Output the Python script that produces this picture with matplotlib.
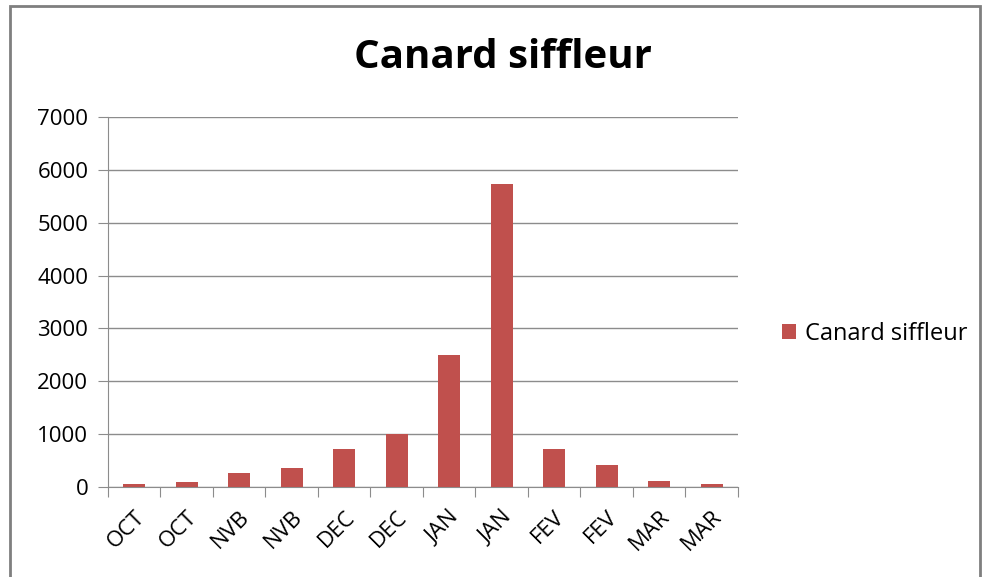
import matplotlib.pyplot as plt
import numpy as np
from matplotlib.patches import Rectangle

plt.rcParams['font.family'] = ['Open Sans', 'DejaVu Sans']

months = ["OCT", "OCT", "NVB", "NVB", "DEC", "DEC", "JAN", "JAN", "FEV", "FEV", "MAR", "MAR"]
counts = [50, 100, 270, 365, 710, 1000, 2500, 5730, 710, 410, 120, 50]
series = "Canard siffleur"

fig = plt.figure(figsize=(9.89, 5.77), dpi=100)
ax = fig.add_axes([0.109, 0.156, 0.637, 0.641])

x = np.arange(len(months))
ax.bar(x, counts, width=0.42, color='#C0504D', label=series, zorder=3)

ax.set_xlim(-0.5, len(months) - 0.5)
ax.set_ylim(0, 7000)
ax.set_yticks(np.arange(0, 7001, 1000))
ax.yaxis.grid(True, color='#8c8c8c', linewidth=1, zorder=0)

# category ticks sit on the boundaries, labels in the middle
ax.set_xticks(np.arange(-0.5, len(months)), minor=False)
ax.set_xticklabels([])
ax.set_xticks(x, minor=True)
ax.set_xticklabels(months, minor=True, rotation=45, ha='right', rotation_mode='anchor', fontsize=16)
ax.tick_params(axis='x', which='major', length=7, color='#8c8c8c', direction='out')
ax.tick_params(axis='x', which='minor', length=0, pad=14)
ax.tick_params(axis='y', length=7, color='#8c8c8c', labelsize=16, pad=7)

for s in ['top', 'right']:
    ax.spines[s].set_visible(False)
for s in ['left', 'bottom']:
    ax.spines[s].set_color('#8c8c8c')

fig.text(0.509, 0.901, series, ha='center', va='center', fontsize=29, fontweight='bold')

ax.legend(loc='center left', bbox_to_anchor=(1.055, 0.414), frameon=False, fontsize=17,
          handlelength=0.6, handleheight=0.6, handletextpad=0.4, borderaxespad=0)

fig.patches.append(Rectangle((0.010, -0.05), 0.981, 1.04, transform=fig.transFigure,
                             fill=False, edgecolor='#7f7f7f', linewidth=2))

fig.savefig("out.png", dpi=100)
